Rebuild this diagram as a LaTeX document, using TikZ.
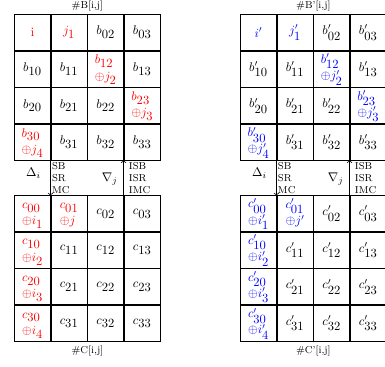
\documentclass[tikz,border=0pt]{standalone}
\usepackage{amsmath}
\usepackage{amssymb}
\usepackage{xcolor}
\usetikzlibrary{matrix, positioning, arrows}

\newcommand{\ent}[2]{#1_{\textstyle #2}}
\newcommand{\xent}[2]{\begin{tabular}{@{}l@{}}$#1$\\[1pt]$#2$\end{tabular}}

\begin{document}
\begin{tikzpicture}[
    cell/.style={rectangle, draw, line width=0.7pt, minimum width=1cm, minimum height=1cm, inner sep=0.5pt, outer sep=0pt, anchor=center, font=\normalsize},
    grid/.style={matrix of nodes, nodes={cell}, column sep=0pt, row sep=0pt, inner sep=0pt, outer sep=0pt},
    rc/.style={text=red},
    bc/.style={text=blue},
    title/.style={font=\footnotesize, inner sep=1pt},
    ops/.style={font=\footnotesize, align=left, inner sep=1pt},
    arrow/.style={->, semithick}
]
    \useasboundingbox (-0.448,0.448) rectangle (10.336,-9.83);

    % left pair
    \matrix[grid] (B) at (2,-2) {
        |[rc]| $\mathrm{i}$ & |[rc]| $\ent{j}{1}$ & $\ent{b}{02}$ & $\ent{b}{03}$ \\
        $\ent{b}{10}$ & $\ent{b}{11}$ & |[rc]| \xent{\ent{b}{12}}{\oplus\ent{j}{2}} & $\ent{b}{13}$ \\
        $\ent{b}{20}$ & $\ent{b}{21}$ & $\ent{b}{22}$ & |[rc]| \xent{\ent{b}{23}}{\oplus\ent{j}{3}} \\
        |[rc]| \xent{\ent{b}{30}}{\oplus\ent{j}{4}} & $\ent{b}{31}$ & $\ent{b}{32}$ & $\ent{b}{33}$ \\
    };
    \matrix[grid] (C) at (2,-7.07) {
        |[rc]| \xent{\ent{c}{00}}{\oplus\ent{i}{1}} & |[rc]| \xent{\ent{c}{01}}{\oplus j} & $\ent{c}{02}$ & $\ent{c}{03}$ \\
        |[rc]| \xent{\ent{c}{10}}{\oplus\ent{i}{2}} & $\ent{c}{11}$ & $\ent{c}{12}$ & $\ent{c}{13}$ \\
        |[rc]| \xent{\ent{c}{20}}{\oplus\ent{i}{3}} & $\ent{c}{21}$ & $\ent{c}{22}$ & $\ent{c}{23}$ \\
        |[rc]| \xent{\ent{c}{30}}{\oplus\ent{i}{4}} & $\ent{c}{31}$ & $\ent{c}{32}$ & $\ent{c}{33}$ \\
    };
    \node[title, above=1pt of B] (Btitle) {\#B[i,j]};
    \node[title, below=2pt of C] (Ctitle) {\#C[i,j]};

    \draw[arrow] (B-4-1.south east) -- (C-1-1.north east)
        node[midway, ops, right=0pt] (fwd) {SB\\SR\\MC}
        node[midway, left=4pt, yshift=4pt, font=\normalsize] (delta) {$\Delta_i$};
    \draw[arrow] (C-1-3.north east) -- (B-4-3.south east)
        node[midway, ops, right=3pt] (inv) {ISB\\ISR\\IMC}
        node[midway, left=1pt, yshift=-1pt, font=\normalsize] (nabla) {$\nabla_j$};

    % right pair
    \matrix[grid] (Bp) at (8.33,-2) {
        |[bc]| $i'$ & |[bc]| $\ent{j'}{1}$ & $\ent{b'}{02}$ & $\ent{b'}{03}$ \\
        $\ent{b'}{10}$ & $\ent{b'}{11}$ & |[bc]| \xent{\ent{b'}{12}}{\oplus\ent{j'}{2}} & $\ent{b'}{13}$ \\
        $\ent{b'}{20}$ & $\ent{b'}{21}$ & $\ent{b'}{22}$ & |[bc]| \xent{\ent{b'}{23}}{\oplus\ent{j'}{3}} \\
        |[bc]| \xent{\ent{b'}{30}}{\oplus\ent{j'}{4}} & $\ent{b'}{31}$ & $\ent{b'}{32}$ & $\ent{b'}{33}$ \\
    };
    \matrix[grid] (Cp) at (8.33,-7.07) {
        |[bc]| \xent{\ent{c'}{00}}{\oplus\ent{i'}{1}} & |[bc]| \xent{\ent{c'}{01}}{\oplus j'} & $\ent{c'}{02}$ & $\ent{c'}{03}$ \\
        |[bc]| \xent{\ent{c'}{10}}{\oplus\ent{i'}{2}} & $\ent{c'}{11}$ & $\ent{c'}{12}$ & $\ent{c'}{13}$ \\
        |[bc]| \xent{\ent{c'}{20}}{\oplus\ent{i'}{3}} & $\ent{c'}{21}$ & $\ent{c'}{22}$ & $\ent{c'}{23}$ \\
        |[bc]| \xent{\ent{c'}{30}}{\oplus\ent{i'}{4}} & $\ent{c'}{31}$ & $\ent{c'}{32}$ & $\ent{c'}{33}$ \\
    };
    \node[title, above=1pt of Bp] (Bptitle) {\#B'[i,j]};
    \node[title, below=2pt of Cp] (Cptitle) {\#C'[i,j]};

    \draw[arrow] (Bp-4-1.south east) -- (Cp-1-1.north east)
        node[midway, ops, right=0pt] (fwdp) {SB\\SR\\MC}
        node[midway, left=4pt, yshift=4pt, font=\normalsize] (deltap) {$\Delta_i$};
    \draw[arrow] (Cp-1-3.north east) -- (Bp-4-3.south east)
        node[midway, ops, right=3pt] (invp) {ISB\\ISR\\IMC}
        node[midway, left=1pt, yshift=-1pt, font=\normalsize] (nablap) {$\nabla_j$};
\end{tikzpicture}
\end{document}
